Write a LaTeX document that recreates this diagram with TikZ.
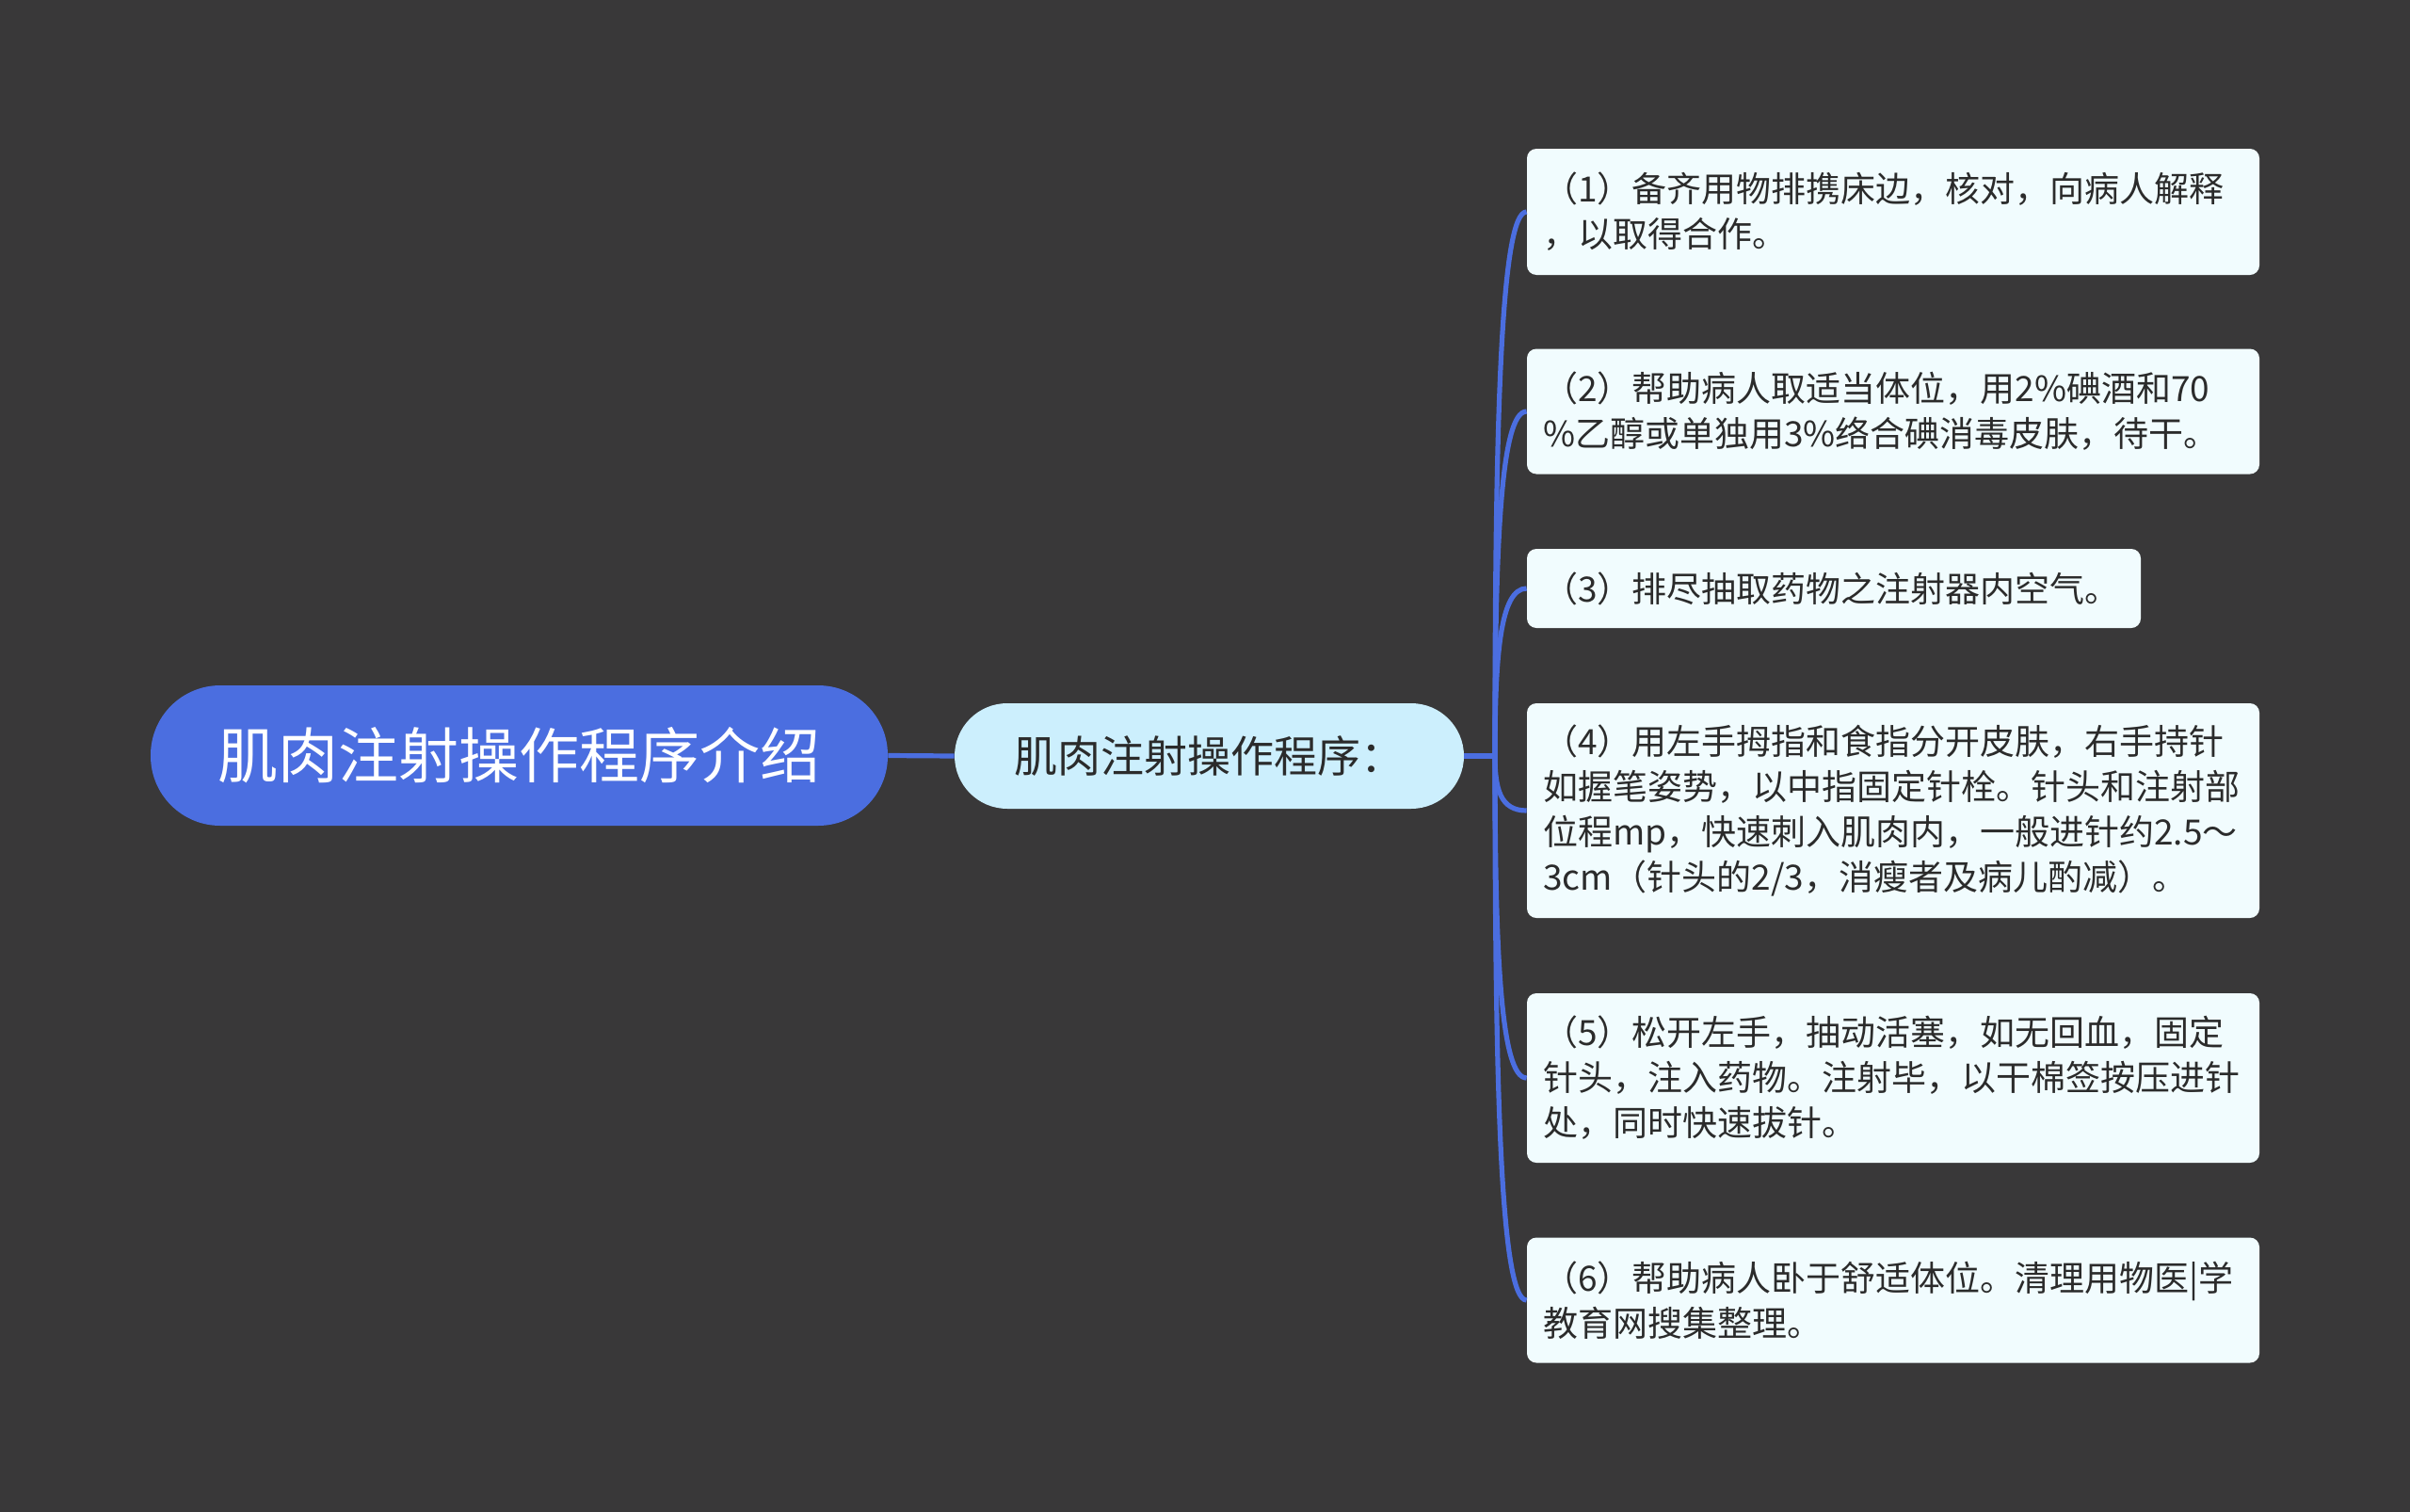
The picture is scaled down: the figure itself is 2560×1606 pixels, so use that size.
\documentclass[tikz,border=0pt]{standalone}
\usepackage{fontspec}
\setmainfont{Noto Sans CJK SC}
\usetikzlibrary{calc}
\usetikzlibrary{positioning}
\definecolor{bgc}{HTML}{393839}
\definecolor{rootblue}{HTML}{4B6EE0}
\definecolor{subcyan}{HTML}{CCEFFD}
\definecolor{leafwhite}{HTML}{F1FCFE}
\definecolor{txtdark}{HTML}{2B2B2B}

\begin{document}
\begin{tikzpicture}[x=0.5pt, y=-0.5pt,
		rootnode/.style={rectangle, rounded corners=37pt, fill=rootblue, text=white, minimum width=391.5pt, minimum height=74.5pt, font=\fontsize{32pt}{38pt}\selectfont},
		subnode/.style={rectangle, rounded corners=28pt, fill=subcyan, text=txtdark, minimum width=270.5pt, minimum height=56pt, font=\fontsize{23pt}{28pt}\selectfont},
		leafbox/.style={rectangle, rounded corners=5pt, fill=leafwhite, text=txtdark, align=left, text width=372pt, inner xsep=8.5pt, inner ysep=0pt, font=\fontsize{18.5pt}{24pt}\selectfont},
		branch/.style={draw=rootblue, line width=2.6pt}
		]
		
		% 背景
		\fill[bgc] (0,0) rectangle (2560,1606);
		
		% 中心主题与分支
		\node[rootnode] (root) at (551.5,802.5) {肌肉注射操作程序介绍};
		\node[subnode] (sub) at (1284.5,803) {肌肉注射操作程序：};
		
		% 步骤
		\node[leafbox, minimum height=67pt] (b1) at (2011,225) {（1）备齐用物排携床边，核对，向病人解释\\，以取得合作。};
		\node[leafbox, minimum height=66.5pt] (b2) at (2011,437) {（2）帮助病人取适当体位，用2\%碘酒和70\\\%乙醇或单独用3\%络合碘消毒皮肤，待干。};
		\node[leafbox, minimum height=42pt, text width=309pt] (b3) at (1948,625) {（3）排尽抽取药物之注射器内空气。};
		\node[leafbox, minimum height=114pt] (b4) at (2011,861) {（4）用左手拇指和食指分开皮肤，右手持针\\如握笔姿势，以中指固定针栓。针头和注射部\\位程mp，快速刺入肌肉内，一般进针约2.5～\\3cm（针头的2/3，消瘦者及病儿酌减）。};
		\node[leafbox, minimum height=90pt] (b5) at (2011,1145) {（5）松开左手，抽动活塞，如无回血，固定\\针头，注入药物。注射毕，以干棉签按压进针\\处，同时快速拔针。};
		\node[leafbox, minimum height=66.5pt] (b6) at (2011,1381) {（6）帮助病人卧于舒适体位。清理用物医|学\\教育网搜集整理。};
		
		% 连线
		\draw[branch] (root.east) -- (sub.west);
		\coordinate (hub) at (1588,803);
		\draw[branch] (sub.east) -- (hub);
		\foreach \b in {b1,b2,b3,b4,b5,b6} {
			\draw[branch] (hub) .. controls ($(hub)!0.6!(hub |- \b.west)$) and ([xshift=-14pt]\b.west) .. (\b.west);
		}
		
	\end{tikzpicture}
\end{document}
